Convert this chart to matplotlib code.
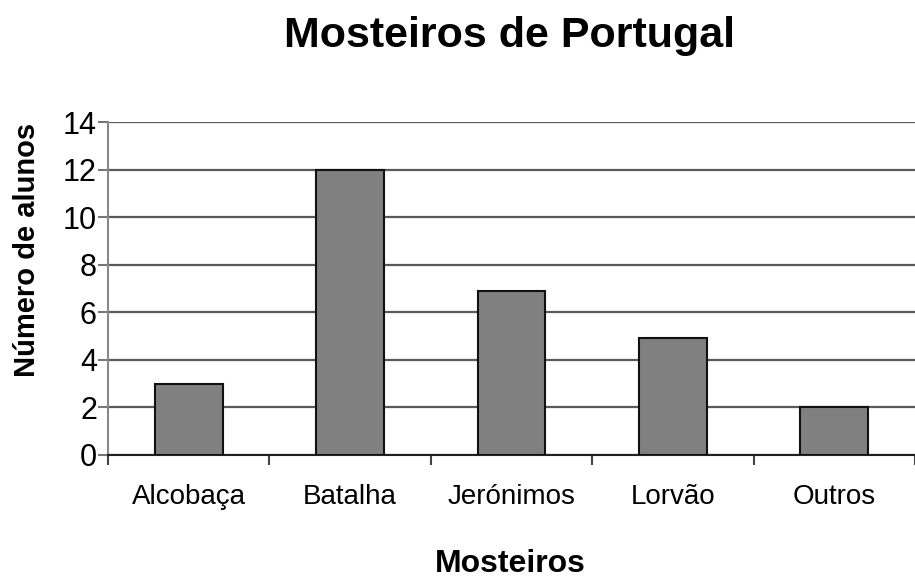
import matplotlib
matplotlib.use("Agg")
import matplotlib.pyplot as plt
import numpy as np

categories = ["Alcobaça", "Batalha", "Jerónimos", "Lorvão", "Outros"]
values = [3, 12, 6.9, 4.9, 2]
yticks = [0, 2, 4, 6, 8, 10, 12, 14]

plt.rcParams['font.family'] = ['Liberation Sans', 'DejaVu Sans']

fig = plt.figure(figsize=(9.15, 5.79), dpi=100)
ax = fig.add_axes([108/915, 124/579, 1 - 108/915, (455-122)/579])

x = np.arange(len(categories))
ax.bar(x, values, width=0.42, color="#808080", edgecolor="#111111", linewidth=1.5, zorder=3)

ax.set_xlim(-0.5, len(categories) - 0.5)
ax.set_ylim(0, 14)
ax.set_yticks(yticks)
ax.set_yticklabels([str(t) for t in yticks], fontsize=22)
ax.yaxis.grid(True, color="#5a5a5a", linewidth=1.6, zorder=0)
ax.set_axisbelow(True)

ax.set_xticks(x)
ax.set_xticklabels(categories, fontsize=20)
ax.set_xticks(np.arange(-0.5, len(categories) + 0.5, 1), minor=True)
ax.tick_params(axis='x', which='major', length=0, pad=21)
ax.tick_params(axis='x', which='minor', length=7, width=1.5, color="#444444", direction='out')
ax.tick_params(axis='y', length=7, width=1.5, color="#777777", pad=1)

for s in ['top', 'right']:
    ax.spines[s].set_visible(False)
ax.spines['left'].set_color("#888888")
ax.spines['left'].set_linewidth(1.5)
ax.spines['bottom'].set_color("#222222")
ax.spines['bottom'].set_linewidth(1.5)

fig.text(27/915, 1 - 250/579, "Número de alunos", fontsize=21, fontweight='bold',
         rotation=90, ha='center', va='center')

fig.text(510/915, 1 - 572/579, "Mosteiros", fontsize=23, fontweight='bold',
         ha='center', va='baseline')

fig.text(510/915, 1 - 47/579, "Mosteiros de Portugal", fontsize=31, fontweight='bold',
         ha='center', va='baseline')

fig.savefig("out.png", dpi=100)
